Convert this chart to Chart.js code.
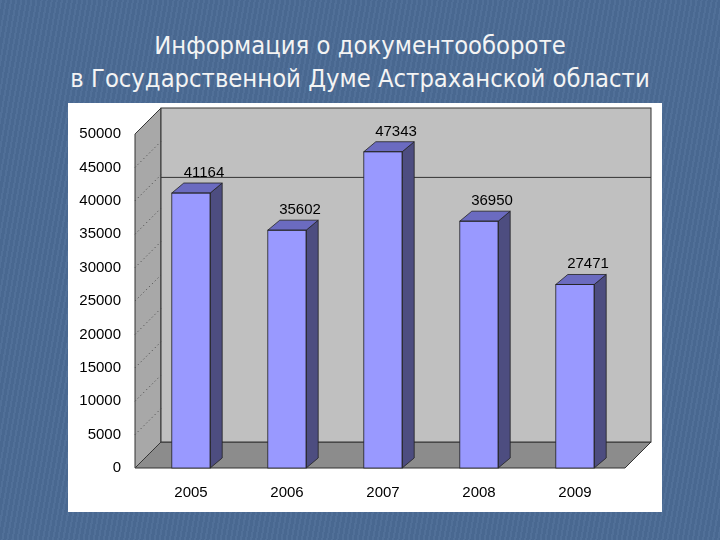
<!DOCTYPE html><html><head><meta charset="utf-8">
<script src="https://cdn.jsdelivr.net/npm/chart.js@4"></script>
<style>
html,body{margin:0;width:720px;height:540px;overflow:hidden;background:#4b6b95;
background-image:repeating-linear-gradient(100deg,rgba(255,255,255,0.03) 0 2px,rgba(0,0,0,0.03) 2px 5px);}
#t{position:absolute;top:30px;left:0;width:720px;text-align:center;color:#f4f4f4;font:24px "DejaVu Sans",sans-serif;line-height:33px;transform:scaleX(0.95);}
canvas{position:absolute;left:0;top:0;}
</style></head><body>
<div id="t">Информация о документообороте<br>в Государственной Думе Астраханской области</div>
<canvas id="c" width="720" height="540"></canvas>
<script>
const categories=["2005","2006","2007","2008","2009"];
const values=[41164,35602,47343,36950,27471];
const DX=26,DY=-26,BD=12,BDY=-10;
const deco={id:'deco',
beforeDraw(ch){const c=ch.ctx,a=ch.chartArea;c.save();
c.fillStyle='#fff';c.fillRect(68,103,594,409);
c.strokeStyle='#333';c.lineWidth=1;
c.fillStyle='#8c8c8c';c.beginPath();c.moveTo(a.left-8,a.bottom);c.lineTo(a.right+2,a.bottom);c.lineTo(a.right+2+DX,a.bottom+DY);c.lineTo(a.left-8+DX,a.bottom+DY);c.closePath();c.fill();c.stroke();
c.fillStyle='#a8a8a8';c.beginPath();c.moveTo(a.left-8,a.bottom);c.lineTo(a.left-8,a.top);c.lineTo(a.left-8+DX,a.top+DY);c.lineTo(a.left-8+DX,a.bottom+DY);c.closePath();c.fill();c.stroke();
c.fillStyle='#c0c0c0';c.fillRect(a.left-8+DX,a.top+DY,a.right-a.left+10,a.bottom-a.top);c.strokeRect(a.left-8+DX,a.top+DY,a.right-a.left+10,a.bottom-a.top);
const y=ch.scales.y.getPixelForValue(45000)+10;c.beginPath();c.moveTo(a.left-8+DX,y);c.lineTo(a.right+2+DX,y);c.stroke();
c.setLineDash([1,3]);c.strokeStyle='#444';
ch.scales.y.ticks.forEach(t=>{const py=ch.scales.y.getPixelForValue(t.value);c.beginPath();c.moveTo(a.left-8,py);c.lineTo(a.left-8+DX,py+DY);c.stroke();});
c.restore();},
afterDatasetsDraw(ch){const c=ch.ctx;c.save();c.strokeStyle='#222';c.lineWidth=0.8;
ch.getDatasetMeta(0).data.forEach((b,i)=>{const l=b.x-b.width/2,r=b.x+b.width/2,t=b.y,bt=b.base;
c.fillStyle='#4d4d80';c.beginPath();c.moveTo(r,t);c.lineTo(r+BD,t+BDY);c.lineTo(r+BD,bt+BDY);c.lineTo(r,bt);c.closePath();c.fill();c.stroke();
c.fillStyle='#6b6bc0';c.beginPath();c.moveTo(l,t);c.lineTo(l+BD,t+BDY);c.lineTo(r+BD,t+BDY);c.lineTo(r,t);c.closePath();c.fill();c.stroke();
c.strokeRect(l,t,r-l,bt-t);
c.fillStyle='#000';c.font='15px "Liberation Sans",Arial';c.textAlign='center';c.fillText(String(values[i]),b.x+13,t-16);});
c.restore();}};
new Chart(document.getElementById('c'),{type:'bar',
data:{labels:categories,datasets:[{data:values,backgroundColor:'#9999ff',barPercentage:0.4,categoryPercentage:1}]},
options:{responsive:false,animation:false,events:[],
layout:{padding:{left:68,top:134,right:97,bottom:28}},
plugins:{legend:{display:false},tooltip:{enabled:false}},
scales:{y:{min:0,max:50000,ticks:{stepSize:5000,color:'#000',font:{size:15,family:'"Liberation Sans",Arial'},padding:14,callback:v=>String(v)},grid:{display:false},border:{display:false},afterFit(s){s.width=75;}},
x:{ticks:{color:'#000',font:{size:15,family:'"Liberation Sans",Arial'},padding:8},grid:{display:false},border:{display:false},afterFit(s){s.height=44;}}}},
plugins:[deco]});
</script></body></html>
